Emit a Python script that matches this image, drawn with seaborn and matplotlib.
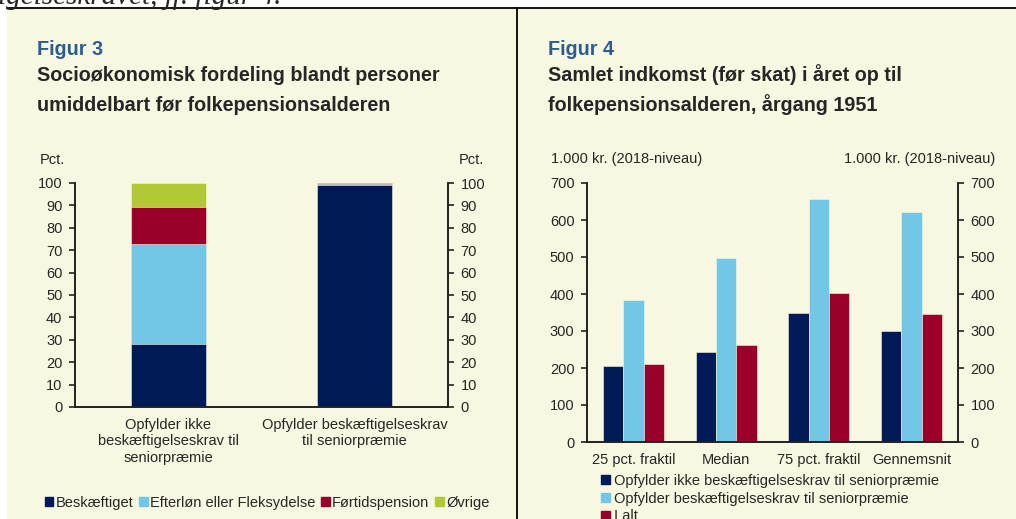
import matplotlib
matplotlib.use("Agg")
import matplotlib.pyplot as plt
import seaborn as sns
import numpy as np
import pandas as pd
from matplotlib.patches import Rectangle, Patch
from matplotlib.lines import Line2D

# Figur 3 data
kategorier3 = ["Opfylder ikke\nbeskæftigelseskrav til\nseniorpræmie",
               "Opfylder beskæftigelseskrav\ntil seniorpræmie"]
serier3 = ["Beskæftiget", "Efterløn eller Fleksydelse", "Førtidspension", "Øvrige"]
beskaeftiget = [28.2, 98.9]
efterloen = [44.5, 0.8]
foertid = [16.6, 0.1]
oevrige = [10.7, 0.2]

# Figur 4 data
kategorier4 = ["25 pct. fraktil", "Median", "75 pct. fraktil", "Gennemsnit"]
serier4 = ["Opfylder ikke beskæftigelseskrav til seniorpræmie",
           "Opfylder beskæftigelseskrav til seniorpræmie",
           "I alt"]
opfylder_ikke = [206, 242, 348, 300]
opfylder = [385, 498, 657, 621]
i_alt = [211, 263, 403, 346]

navy = "#001A57"
lyseblaa = "#72C7E7"
roed = "#990029"
groen = "#B2C935"
baggrund = "#F8F7E1"
titelblaa = "#2B5D91"

sns.set_style("white")
plt.rcParams["font.family"] = ["Liberation Sans", "DejaVu Sans"]
plt.rcParams["font.size"] = 10.5

W, H = 1016, 519
fig = plt.figure(figsize=(W / 100, H / 100), dpi=100, facecolor="white")


def fx(px):
    return px / W


def fy(py):
    return 1 - py / H


# baggrund og rammer
fig.patches.append(Rectangle((fx(7), 0), 1 - fx(7), fy(8), transform=fig.transFigure,
                             facecolor=baggrund, edgecolor="none", zorder=-5))
fig.lines.append(Line2D([fx(7), 1], [fy(8), fy(8)], transform=fig.transFigure,
                        color="black", lw=1.3))
fig.lines.append(Line2D([fx(517), fx(517)], [0, fy(8)], transform=fig.transFigure,
                        color="black", lw=1.3))
fig.text(fx(-2), fy(4), "igelseskravet, jf. figur 4.", family="Liberation Serif",
         style="italic", fontsize=21, va="baseline", ha="left")

# titler
for x0, fig_nr, linje1, linje2 in [
        (37, "Figur 3", "Socioøkonomisk fordeling blandt personer",
         "umiddelbart før folkepensionsalderen"),
        (548, "Figur 4", "Samlet indkomst (før skat) i året op til",
         "folkepensionsalderen, årgang 1951")]:
    fig.text(fx(x0), fy(55), fig_nr, color=titelblaa, fontsize=14.2,
             fontweight="bold", va="baseline")
    fig.text(fx(x0), fy(81), linje1, fontsize=14.2, fontweight="bold", va="baseline")
    fig.text(fx(x0), fy(111), linje2, fontsize=14.2, fontweight="bold", va="baseline")


def style_axes(ax, ax2, ymax, ystep):
    for a in (ax, ax2):
        a.set_facecolor("none")
        a.set_ylim(0, ymax)
        a.set_yticks(np.arange(0, ymax + 1, ystep))
        a.spines["top"].set_visible(False)
        for s in ("left", "right", "bottom"):
            a.spines[s].set_linewidth(1.2)
            a.spines[s].set_color("#222222")
        a.tick_params(axis="y", direction="out", length=4, width=1.2,
                      color="#222222", labelsize=10.5, pad=5)
    ax.set_ylabel("")
    ax.set_xlabel("")
    ax.tick_params(axis="x", which="major", length=0, labelsize=10.5)
    ax.tick_params(axis="x", which="minor", direction="out", length=4,
                   width=1.2, color="#222222")


# ---------- Figur 3: stablede søjler ----------
ax = fig.add_axes([fx(75), fy(407), fx(448) - fx(75), fy(183) - fy(407)])
lag = [beskaeftiget, efterloen, foertid, oevrige]
farver3 = [navy, lyseblaa, roed, groen]
kum = np.cumsum(np.array(lag), axis=0)
for i in range(len(lag) - 1, -1, -1):
    sns.barplot(x=kategorier3, y=kum[i], color=farver3[i], width=0.4,
                saturation=1, ax=ax, edgecolor=baggrund, linewidth=0.4)
ax.set_xlim(-0.5, 1.5)
ax.set_xticks([-0.5, 0.5, 1.5], minor=True)
ax2 = ax.twinx()
style_axes(ax, ax2, 100, 10)
ax.tick_params(axis="x", which="major", pad=8)
fig.text(fx(40), fy(160), "Pct.", va="center", ha="left")
fig.text(fx(484), fy(160), "Pct.", va="center", ha="right")
fig.legend(handles=[Patch(color=c, label=l) for c, l in zip(farver3, serier3)],
           loc="center", bbox_to_anchor=(fx(267), fy(503)), ncol=4, frameon=False,
           handlelength=0.6, handleheight=0.6, handletextpad=0.15,
           columnspacing=0.4, borderpad=0, fontsize=10.5)

# ---------- Figur 4: grupperede søjler ----------
df4 = pd.DataFrame({
    "kategori": kategorier4 * 3,
    "gruppe": np.repeat(serier4, len(kategorier4)),
    "vaerdi": opfylder_ikke + opfylder + i_alt,
})
bx = fig.add_axes([fx(587), fy(442), fx(958) - fx(587), fy(183) - fy(442)])
sns.barplot(data=df4, x="kategori", y="vaerdi", hue="gruppe",
            palette=[navy, lyseblaa, roed], width=0.66, gap=0, saturation=1,
            errorbar=None, ax=bx, edgecolor=baggrund, linewidth=0.4)
bx.get_legend().remove()
bx.set_xlim(-0.5, 3.5)
bx.set_xticks([-0.5, 0.5, 1.5, 2.5, 3.5], minor=True)
bx2 = bx.twinx()
style_axes(bx, bx2, 700, 100)
bx.tick_params(axis="x", which="major", pad=8)
fig.text(fx(551), fy(159), "1.000 kr. (2018-niveau)", va="center", ha="left")
fig.text(fx(995), fy(159), "1.000 kr. (2018-niveau)", va="center", ha="right")
fig.legend(handles=[Patch(color=c, label=l) for c, l in
                    zip([navy, lyseblaa, roed], serier4)],
           loc="upper left", bbox_to_anchor=(fx(601), fy(474)), ncol=1,
           frameon=False, handlelength=0.6, handleheight=0.6, handletextpad=0.3,
           labelspacing=0.25, borderpad=0, borderaxespad=0, fontsize=10.5)

fig.savefig("out.png", dpi=100, facecolor="white")
